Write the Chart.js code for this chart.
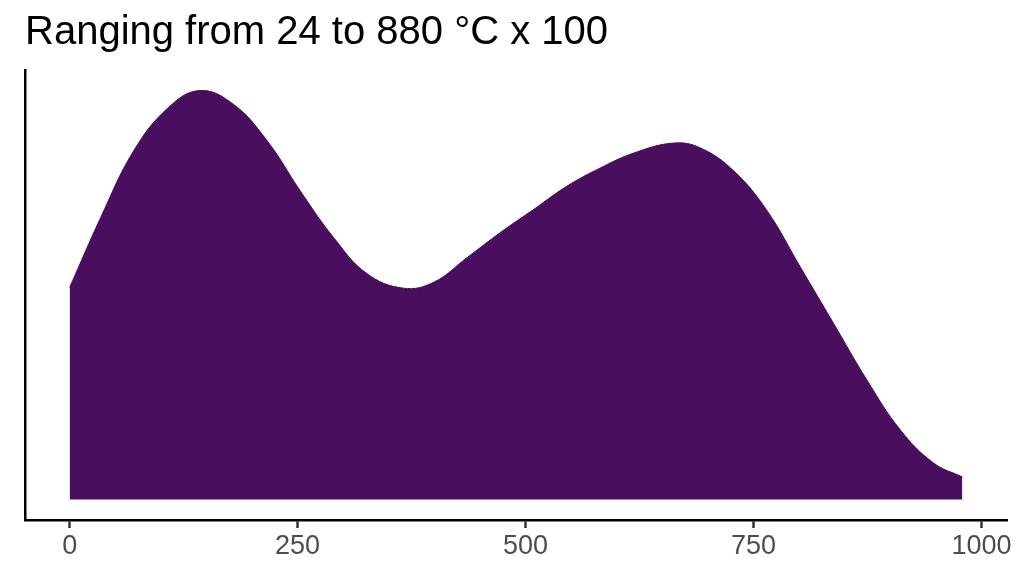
<!DOCTYPE html>
<html>
<head>
<meta charset="utf-8">
<script src="https://cdn.jsdelivr.net/npm/chart.js@4"></script>
<style>
    html, body { margin: 0; padding: 0; background: #ffffff; }
    #wrap { width: 1024px; height: 576px; }
</style>
</head>
<body>
<div id="wrap"><canvas id="density-chart" width="1024" height="576"></canvas></div>
<script>
// temperature (°C x 100) and estimated density
const temperatures = [0, 34, 70, 107.5, 143, 180, 217, 253, 289.5, 326, 366, 399, 436, 472.5,
    509, 545.5, 582, 619, 662.5, 692, 728.5, 765, 801.5, 838, 874.5, 911, 947.5, 979];
const density = [0.947, 1.259, 1.556, 1.748, 1.827, 1.764, 1.600, 1.378, 1.170, 1.009, 0.944, 0.970, 1.081, 1.193,
    1.296, 1.400, 1.481, 1.548, 1.592, 1.570, 1.467, 1.289, 1.037, 0.785, 0.533, 0.311, 0.163, 0.101];
const xTicks = [0, 250, 500, 750, 1000];
const titleText = 'Ranging from 24 to 880 °C x 100';

const fillColor = '#490f5e';
const fontFamily = '"Liberation Sans", Arial, sans-serif';

// ggplot style 5% expansion around the data
const xMin = Math.min(...temperatures);
const xMax = Math.max(...temperatures);
const yMax = Math.max(...density);
const xPad = (xMax - xMin) * 0.05;

const points = temperatures.map((t, i) => ({x: t, y: density[i]}));

const ctx = document.getElementById('density-chart').getContext('2d');
new Chart(ctx, {
    type: 'line',
    data: {
        datasets: [{
            data: points,
            borderColor: fillColor,
            backgroundColor: fillColor,
            borderWidth: 1,
            pointRadius: 0,
            fill: 'origin',
            tension: 0.4
        }]
    },
    options: {
        responsive: false,
        animation: false,
        devicePixelRatio: 1,
        layout: {
            padding: {left: 25, right: 17, top: 0, bottom: 0}
        },
        plugins: {
            legend: {display: false},
            tooltip: {enabled: false},
            title: {
                display: true,
                text: titleText,
                align: 'start',
                color: '#000000',
                font: {family: fontFamily, size: 40, weight: 'normal', lineHeight: 1.2},
                padding: {top: 9, bottom: 13}
            }
        },
        scales: {
            x: {
                type: 'linear',
                min: xMin - xPad,
                max: xMax + xPad,
                afterBuildTicks: axis => {
                    axis.ticks = xTicks.map(v => ({value: v}));
                },
                afterFit: axis => {
                    axis.height = 56;
                },
                grid: {
                    display: true,
                    drawOnChartArea: false,
                    drawTicks: true,
                    tickLength: 8,
                    tickWidth: 2.5,
                    tickColor: '#333333'
                },
                border: {display: true, color: '#000000', width: 2.5},
                ticks: {
                    color: '#4d4d4d',
                    padding: 2,
                    maxRotation: 0,
                    autoSkip: false,
                    font: {family: fontFamily, size: 27},
                    callback: value => String(value)
                }
            },
            y: {
                min: -0.05 * yMax,
                max: 1.05 * yMax,
                afterFit: axis => {
                    axis.width = 0;
                },
                grid: {display: false, drawTicks: false},
                border: {display: true, color: '#000000', width: 2.5},
                ticks: {display: false}
            }
        }
    }
});
</script>
</body>
</html>
